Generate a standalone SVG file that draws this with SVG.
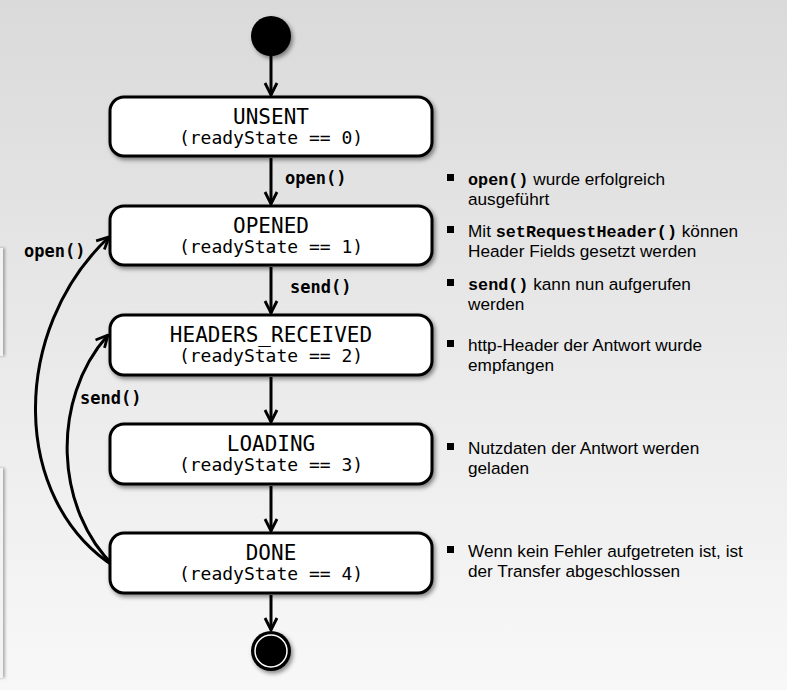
<svg xmlns="http://www.w3.org/2000/svg" width="787" height="690" viewBox="0 0 787 690">
<defs>
<linearGradient id="bg" x1="0" y1="0" x2="0" y2="1">
<stop offset="0" stop-color="#dadada"/>
<stop offset="1" stop-color="#f8f8f8"/>
</linearGradient>
<filter id="sh" x="-10%" y="-20%" width="130%" height="150%">
<feDropShadow dx="2" dy="2.5" stdDeviation="2" flood-color="#000" flood-opacity="0.45"/>
</filter>
<filter id="sh2" x="-50%" y="-10%" width="300%" height="120%">
<feDropShadow dx="2" dy="0" stdDeviation="1.5" flood-color="#000" flood-opacity="0.3"/>
</filter>
<marker id="arr" viewBox="0 0 14 16" refX="13" refY="8" markerWidth="14" markerHeight="16" markerUnits="userSpaceOnUse" orient="auto">
<path d="M1,2 L13,8 L1,14" fill="none" stroke="#000" stroke-width="2.8" stroke-linejoin="miter"/>
</marker>
<style>
.box{fill:#fff;stroke:#000;stroke-width:3;filter:url(#sh)}
.name{font-family:"DejaVu Sans Mono",monospace;font-size:21px;fill:#000;text-anchor:middle}
.rs{font-family:"DejaVu Sans Mono",monospace;font-size:18px;fill:#000;text-anchor:middle}
.lbl{font-family:"DejaVu Sans Mono",monospace;font-size:17px;font-weight:bold;fill:#000}
.edge{fill:none;stroke:#000;stroke-width:3;marker-end:url(#arr)}
.txt{font-family:"Liberation Sans",Arial,sans-serif;font-size:17.2px;fill:#000}
.code{font-family:"Liberation Mono","Courier New",monospace;font-weight:bold;font-size:16.8px}
.bul{fill:#000}
.side{fill:#f3f3f3;filter:url(#sh2)}
</style>
</defs>
<rect width="787" height="690" fill="url(#bg)"/>
<rect class="side" x="-10" y="248" width="13" height="108"/>
<rect class="side" x="-10" y="468" width="13" height="210"/>

<g id="connectors">
<line class="edge" x1="271" y1="55" x2="271" y2="95"/>
<line class="edge" x1="271" y1="158" x2="271" y2="204"/>
<line class="edge" x1="271" y1="267" x2="271" y2="313"/>
<line class="edge" x1="271" y1="377" x2="271" y2="422"/>
<line class="edge" x1="271" y1="486" x2="271" y2="531"/>
<line class="edge" x1="271" y1="595" x2="271" y2="630"/>
<path class="edge" d="M115,567 C10,500 10,330 109,237"/>
<path class="edge" d="M115,567 C55,510 50,400 108,335"/>
<text class="lbl" x="285" y="184">open()</text>
<text class="lbl" x="290" y="293">send()</text>
<text class="lbl" x="24" y="257">open()</text>
<text class="lbl" x="80" y="404">send()</text>
</g>

<g id="start">
<circle cx="271" cy="36" r="20" fill="#000" filter="url(#sh)"/>
</g>

<g id="unsent">
<rect class="box" x="110" y="97" width="322" height="59" rx="14"/>
<text class="name" x="271" y="124">UNSENT</text>
<text class="rs" x="271" y="144">(readyState == 0)</text>
</g>
<g id="opened">
<rect class="box" x="110" y="206" width="322" height="59" rx="14"/>
<text class="name" x="271" y="233">OPENED</text>
<text class="rs" x="271" y="253">(readyState == 1)</text>
</g>
<g id="headers_received">
<rect class="box" x="110" y="315" width="322" height="60" rx="14"/>
<text class="name" x="271" y="342">HEADERS_RECEIVED</text>
<text class="rs" x="271" y="362">(readyState == 2)</text>
</g>
<g id="loading">
<rect class="box" x="110" y="424" width="322" height="60" rx="14"/>
<text class="name" x="271" y="451">LOADING</text>
<text class="rs" x="271" y="471">(readyState == 3)</text>
</g>
<g id="done">
<rect class="box" x="110" y="533" width="322" height="60" rx="14"/>
<text class="name" x="271" y="560">DONE</text>
<text class="rs" x="271" y="580">(readyState == 4)</text>
</g>
<g id="end">
<circle cx="271" cy="651" r="20" fill="#000" filter="url(#sh)"/>
<circle cx="271" cy="651" r="16" fill="none" stroke="#fff" stroke-width="1.5"/>
</g>

<g id="notes">
<rect class="bul" x="447" y="174" width="7" height="7"/>
<text class="txt" x="468" y="185"><tspan class="code">open()</tspan> wurde erfolgreich</text>
<text class="txt" x="468" y="205">ausgeführt</text>
<rect class="bul" x="447" y="226" width="7" height="7"/>
<text class="txt" x="468" y="237">Mit <tspan class="code">setRequestHeader()</tspan> können</text>
<text class="txt" x="468" y="257">Header Fields gesetzt werden</text>
<rect class="bul" x="447" y="279" width="7" height="7"/>
<text class="txt" x="468" y="290"><tspan class="code">send()</tspan> kann nun aufgerufen</text>
<text class="txt" x="468" y="310">werden</text>
<rect class="bul" x="447" y="340" width="7" height="7"/>
<text class="txt" x="468" y="351">http-Header der Antwort wurde</text>
<text class="txt" x="468" y="371">empfangen</text>
<rect class="bul" x="447" y="443" width="7" height="7"/>
<text class="txt" x="468" y="454">Nutzdaten der Antwort werden</text>
<text class="txt" x="468" y="474">geladen</text>
<rect class="bul" x="447" y="546" width="7" height="7"/>
<text class="txt" x="468" y="557">Wenn kein Fehler aufgetreten ist, ist</text>
<text class="txt" x="468" y="577">der Transfer abgeschlossen</text>
</g>
</svg>
